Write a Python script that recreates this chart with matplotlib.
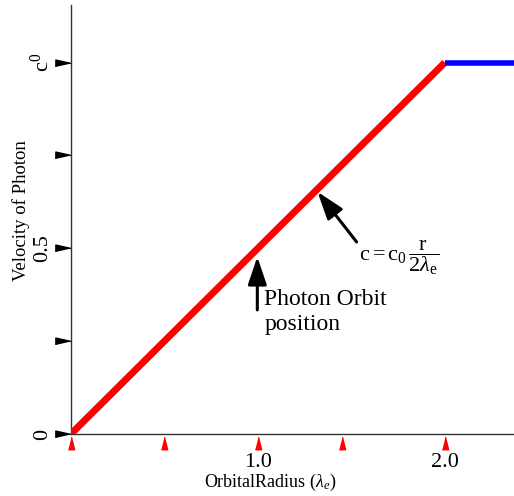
import matplotlib
matplotlib.use("Agg")
import matplotlib.pyplot as plt

plt.rcParams["font.family"] = ["Liberation Serif", "DejaVu Serif"]
plt.rcParams["mathtext.fontset"] = "custom"
plt.rcParams["mathtext.rm"] = "Liberation Serif"
plt.rcParams["mathtext.it"] = "Liberation Serif:italic"

# photon velocity vs orbital radius (in units of lambda_e, c0)
radius_rise = [0.0, 2.0]
velocity_rise = [0.0, 1.0]
radius_flat = [2.0, 2.37]
velocity_flat = [1.0, 1.0]

xtick_pos = [0.0, 0.5, 1.0, 1.45, 2.0]
xtick_labels = {1.0: "1.0", 2.0: "2.0"}
ytick_pos = [0.0, 0.25, 0.5, 0.75, 1.0]
ytick_labels = {0.0: "0", 0.5: "0.5", 1.0: "c$^0$"}

fig = plt.figure(figsize=(5.14, 4.96), dpi=100)
ax = fig.add_axes([0.138, 0.125, 0.862, 0.865])
ax.set_xlim(0, 2.37)
ax.set_ylim(0, 1.155)

ax.plot(radius_rise, velocity_rise, color="#ff0000", lw=5, solid_capstyle="butt", zorder=3)
ax.plot(radius_flat, velocity_flat, color="#0000ff", lw=4.0, solid_capstyle="butt", zorder=3)

for s in ["top", "right"]:
    ax.spines[s].set_visible(False)
for s in ["left", "bottom"]:
    ax.spines[s].set_color("#333333")
    ax.spines[s].set_linewidth(1.0)
ax.set_xticks([])
ax.set_yticks([])

# custom tick markers (narrow triangles)
ax.plot([-0.018] * len(ytick_pos), ytick_pos, marker=[(1, 0), (-1, 0.45), (-1, -0.45)],
        ls="none", color="black", ms=11,
        transform=ax.get_yaxis_transform(), clip_on=False)
ax.plot(xtick_pos, [-0.022] * len(xtick_pos), marker=[(0, 1), (0.5, -1), (-0.5, -1)],
        ls="none", color="#ff0000", ms=9,
        transform=ax.get_xaxis_transform(), clip_on=False)

for v, lab in ytick_labels.items():
    ax.text(-0.065, v, lab, rotation=90, ha="center", va="center", fontsize=16,
            transform=ax.get_yaxis_transform())
for v, lab in xtick_labels.items():
    ax.text(v, -0.067, lab, ha="center", va="center", fontsize=16,
            transform=ax.get_xaxis_transform())

ax.text(-0.112, 0.52, "Velocity of Photon", rotation=90, ha="center", va="center",
        fontsize=13.5, transform=ax.transAxes)
ax.text(0.45, -0.112, r"OrbitalRadius $(\lambda_e)$", ha="center", va="center",
        fontsize=13, transform=ax.transAxes)

arrow = dict(arrowstyle="-|>,head_length=0.65,head_width=0.22", lw=2.2, color="black",
             mutation_scale=26, shrinkA=0, shrinkB=0)
ax.annotate("", xy=(0.997, 0.477), xytext=(0.997, 0.334), arrowprops=arrow)
ax.text(1.035, 0.39, "Photon Orbit\nposition", ha="left", va="top", fontsize=17,
        linespacing=1.25)

ax.annotate("", xy=(1.319, 0.652), xytext=(1.528, 0.517), arrowprops=arrow)
ax.text(1.54, 0.474, r"$\mathrm{c = c_0}\,\dfrac{\mathrm{r}}{2\lambda_{\mathrm{e}}}$",
        ha="left", va="center", fontsize=16)

fig.savefig("out.png", dpi=100)
